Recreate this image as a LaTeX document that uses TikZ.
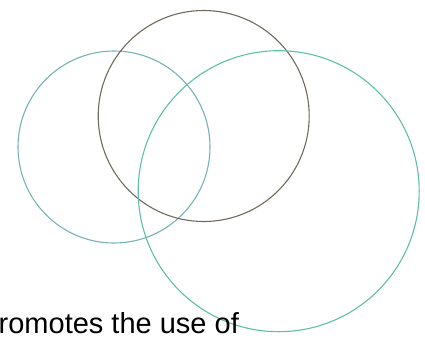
\documentclass[tikz,border=0pt]{standalone}
\usepackage{fontspec}
\setmainfont{Liberation Sans}
\usepackage{tikz}
\usepackage{xcolor}

\definecolor{smallteal}{RGB}{120,178,180}
\definecolor{greybrown}{RGB}{112,106,92}
\definecolor{bigteal}{RGB}{95,190,168}

\begin{document}
\begin{tikzpicture}[x=1pt, y=-1pt]
    \useasboundingbox (0,0) rectangle (425,338);
    \tikzset{ring/.style={draw, circle, inner sep=0pt, line width=1.1pt}}

    % The three overlapping circles
    \node[ring, draw=smallteal, minimum size=192pt] (left) at (114,147) {};
    \node[ring, draw=greybrown, minimum size=211pt] (top) at (203.7,116) {};
    \node[ring, draw=bigteal, minimum size=281pt] (big) at (278.7,191.2) {};

    % Cut-off caption at the bottom
    \node[anchor=base west, inner sep=0pt, font=\fontsize{29}{32}\selectfont] (caption) at (-1.5,333) {romotes the use of};

\end{tikzpicture}
\end{document}
